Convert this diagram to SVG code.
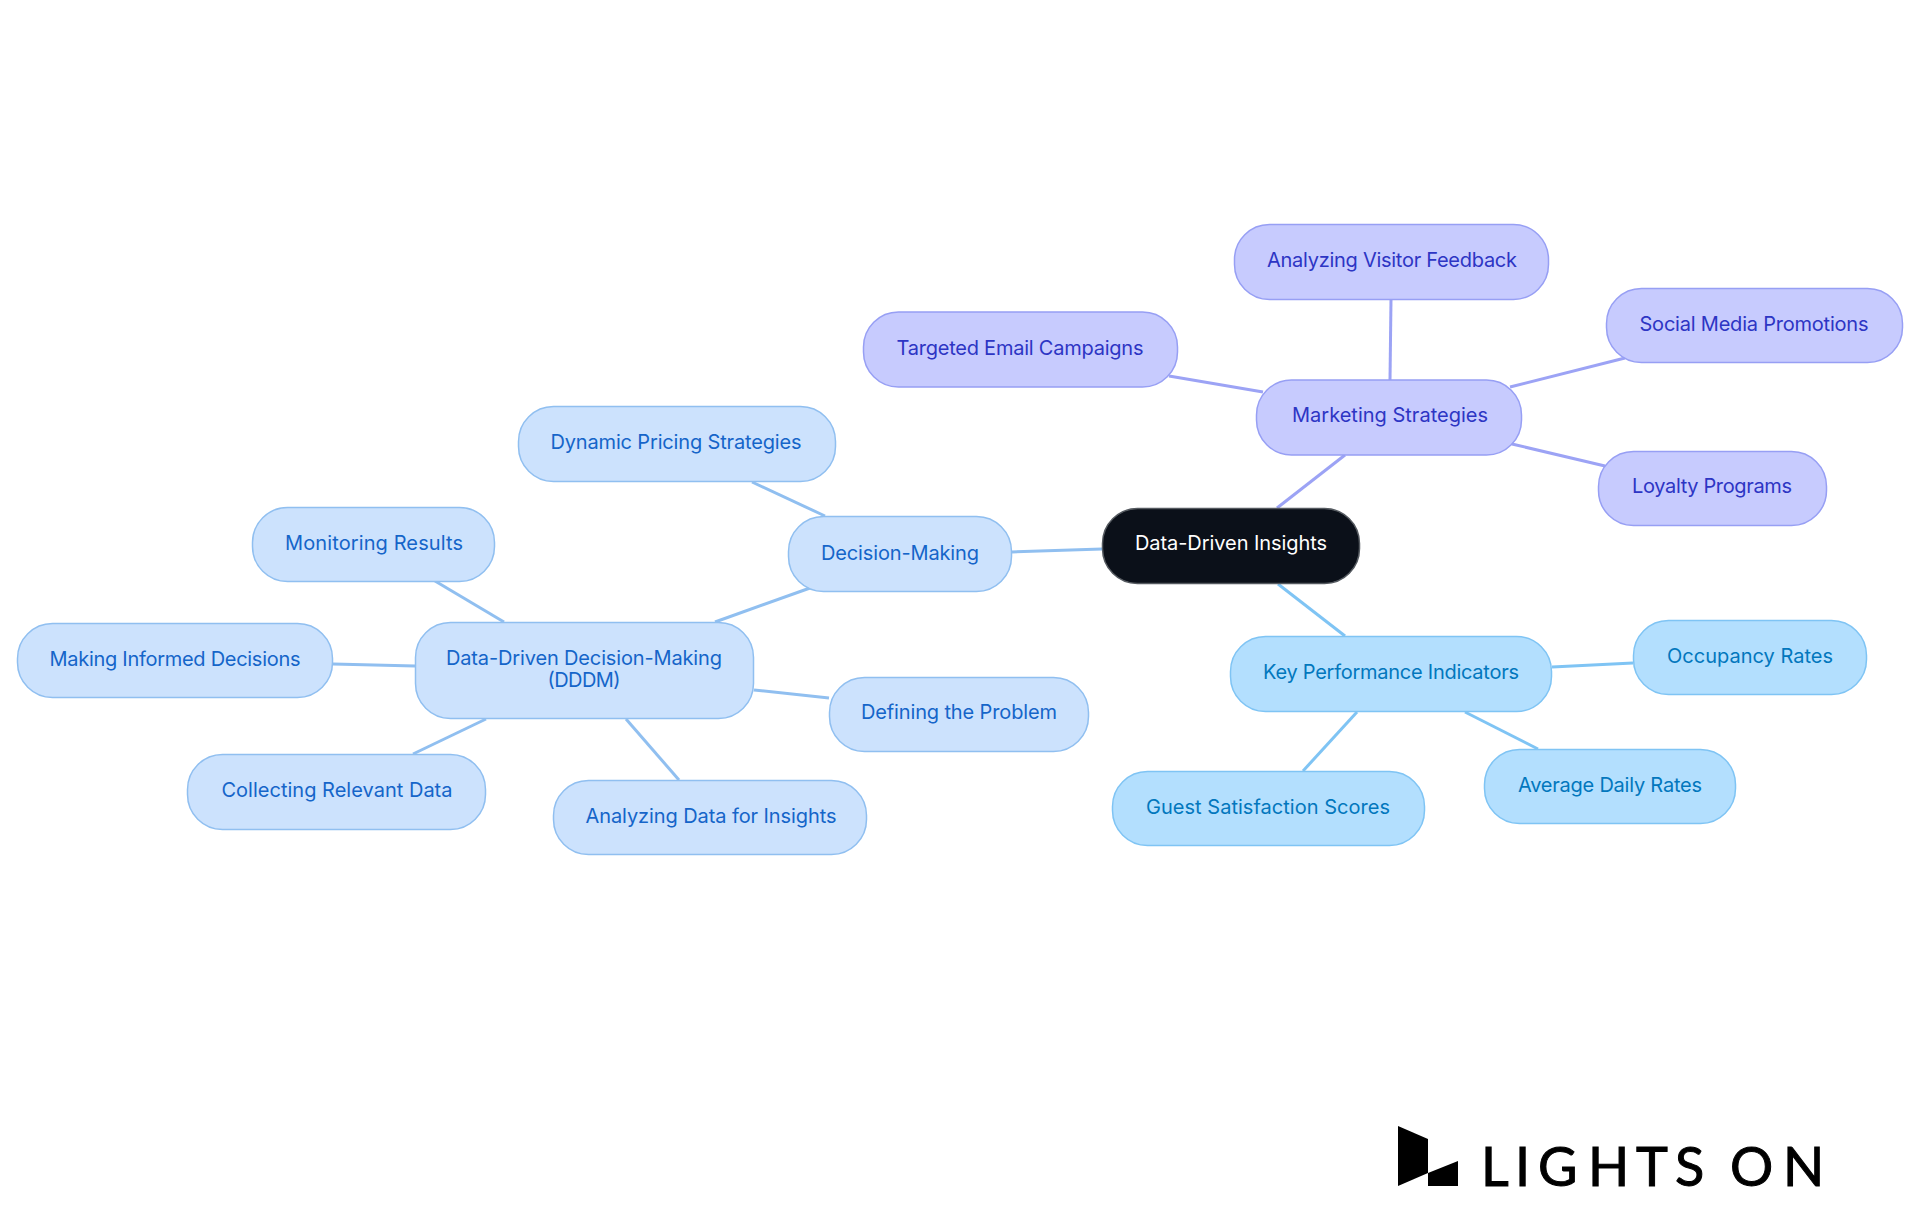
<svg xmlns="http://www.w3.org/2000/svg" width="1920" height="1215" viewBox="0 0 1920 1215">
<style>
text{font-family:Inter,"Noto Sans","Liberation Sans",sans-serif;font-size:20px;font-weight:385;text-anchor:middle}
rect{stroke-width:1.5}
.c line{stroke-width:3;fill:none}
.b rect{fill:#cce2fd;stroke:#90bff0}.b text{fill:#1565c9}
.k rect{fill:#b3dffe;stroke:#7fc4f4}.k text{fill:#0277bd}
.p rect{fill:#c7cbfe;stroke:#979ff4}.p text{fill:#2d35c4}
.lb{stroke:#90bff0}.lk{stroke:#7fc4f4}.lp{stroke:#9ca3f5}
</style>
<rect width="1920" height="1215" fill="#fff"/>
<g id="connectors" class="c">
<line class="lb" x1="1102" y1="549" x2="1012" y2="552"/>
<line class="lb" x1="825" y1="516" x2="752" y2="482"/>
<line class="lb" x1="810" y1="588" x2="715" y2="622"/>
<line class="lb" x1="504" y1="622" x2="435" y2="581"/>
<line class="lb" x1="415" y1="666" x2="333" y2="664"/>
<line class="lb" x1="754" y1="690" x2="829" y2="698"/>
<line class="lb" x1="486" y1="719" x2="413" y2="754"/>
<line class="lb" x1="626" y1="719" x2="679" y2="780"/>
<line class="lk" x1="1278" y1="584" x2="1345" y2="636"/>
<line class="lk" x1="1552" y1="667" x2="1633" y2="663"/>
<line class="lk" x1="1465" y1="712" x2="1538" y2="749"/>
<line class="lk" x1="1357" y1="712" x2="1303" y2="771"/>
<line class="lp" x1="1277" y1="508" x2="1345" y2="455"/>
<line class="lp" x1="1263" y1="392" x2="1169" y2="376"/>
<line class="lp" x1="1390" y1="380" x2="1391" y2="299"/>
<line class="lp" x1="1510" y1="387" x2="1625" y2="358"/>
<line class="lp" x1="1512" y1="444" x2="1605" y2="466"/>
</g>
<g id="root"><rect x="1102.5" y="508.5" width="257" height="75" rx="35" fill="#0b1019" stroke="#555a60"/><text x="1231" y="550" fill="#fff" textLength="192">Data-Driven Insights</text></g>
<g id="decision-making" class="b"><rect x="788.5" y="516.5" width="223" height="75" rx="35"/><text x="900" y="560" textLength="158">Decision-Making</text></g>
<g id="dynamic-pricing" class="b"><rect x="518.5" y="406.5" width="317" height="75" rx="35"/><text x="676" y="449" textLength="251">Dynamic Pricing Strategies</text></g>
<g id="monitoring" class="b"><rect x="252.5" y="507.5" width="242" height="74" rx="35"/><text x="374" y="550" textLength="178">Monitoring Results</text></g>
<g id="informed" class="b"><rect x="17.5" y="623.5" width="315" height="74" rx="35"/><text x="175" y="666" textLength="251">Making Informed Decisions</text></g>
<g id="dddm" class="b"><rect x="415.5" y="622.5" width="338" height="96" rx="35"/><text x="584" y="665" textLength="276">Data-Driven Decision-Making</text><text x="584" y="687" textLength="73">(DDDM)</text></g>
<g id="defining" class="b"><rect x="829.5" y="677.5" width="259" height="74" rx="35"/><text x="959" y="719" textLength="196">Defining the Problem</text></g>
<g id="collecting" class="b"><rect x="187.5" y="754.5" width="298" height="75" rx="35"/><text x="337" y="797" textLength="231">Collecting Relevant Data</text></g>
<g id="analyzing-data" class="b"><rect x="553.5" y="780.5" width="313" height="74" rx="35"/><text x="711" y="823" textLength="251">Analyzing Data for Insights</text></g>
<g id="kpi" class="k"><rect x="1230.5" y="636.5" width="321" height="75" rx="35"/><text x="1391" y="679" textLength="256">Key Performance Indicators</text></g>
<g id="occupancy" class="k"><rect x="1633.5" y="620.5" width="233" height="74" rx="35"/><text x="1750" y="663" textLength="166">Occupancy Rates</text></g>
<g id="adr" class="k"><rect x="1484.5" y="749.5" width="251" height="74" rx="35"/><text x="1610" y="792" textLength="184">Average Daily Rates</text></g>
<g id="guest" class="k"><rect x="1112.5" y="771.5" width="312" height="74" rx="35"/><text x="1268" y="814" textLength="244">Guest Satisfaction Scores</text></g>
<g id="marketing" class="p"><rect x="1256.5" y="380" width="265" height="75" rx="35"/><text x="1390" y="422" textLength="196">Marketing Strategies</text></g>
<g id="email" class="p"><rect x="863.5" y="312" width="314" height="75" rx="35"/><text x="1020" y="355" textLength="247">Targeted Email Campaigns</text></g>
<g id="feedback" class="p"><rect x="1234.5" y="224.5" width="314" height="75" rx="35"/><text x="1392" y="267" textLength="250">Analyzing Visitor Feedback</text></g>
<g id="social" class="p"><rect x="1606.5" y="288.5" width="296" height="74" rx="35"/><text x="1754" y="331" textLength="229">Social Media Promotions</text></g>
<g id="loyalty" class="p"><rect x="1598.5" y="451.5" width="228" height="74" rx="35"/><text x="1712" y="493" textLength="160">Loyalty Programs</text></g>
<g id="logo"><polygon points="1398,1126 1428,1139 1428,1173 1398,1186" fill="#000"/><polygon points="1428,1173 1458,1161 1458,1186 1428,1186" fill="#000"/><text x="1481 1515 1538 1588 1636 1675 1700 1730 1783" y="1186" style="font-family:Lato,sans-serif;font-size:54px;font-weight:400;text-anchor:start" fill="#000" stroke="#000" stroke-width="1">LIGHTS ON</text></g>
</svg>
